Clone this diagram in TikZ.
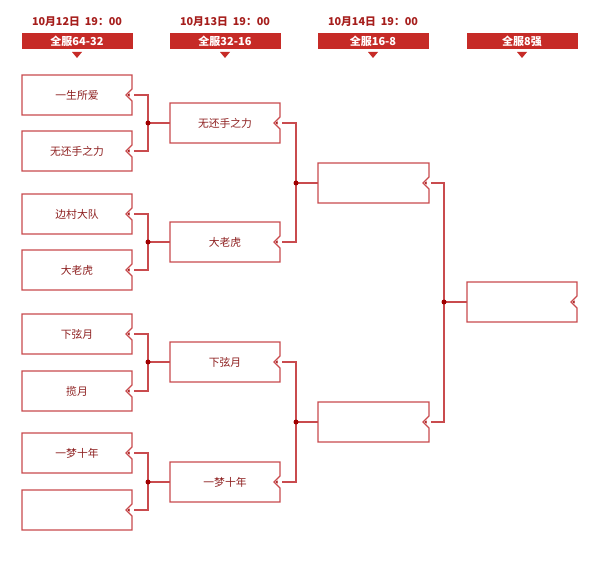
\documentclass[tikz,border=0pt]{standalone}
\usepackage{fontspec}
\newfontfamily\cjk{Noto Sans CJK SC}
\usetikzlibrary{calc,positioning}
\definecolor{boxColor}{HTML}{C94B4E}
\definecolor{txtColor}{HTML}{8E2020}
\definecolor{dateColor}{HTML}{A61E1C}
\definecolor{banColor}{HTML}{C62B27}
\definecolor{dotColor}{HTML}{A00000}
\tikzset{
	team/.style={minimum width=110pt, minimum height=40pt, inner sep=0, outer sep=0,
		text=txtColor, font=\cjk\fontsize{10.8}{12}\selectfont},
	frame/.style={draw=boxColor, line width=1.2pt},
	link/.style={draw=boxColor, line width=1.2pt},
	date/.style={text=dateColor, font=\cjk\bfseries\fontsize{10.8}{12}\selectfont},
	banner/.style={fill=banColor, minimum width=111pt, minimum height=16pt, inner sep=0,
		text=white, font=\cjk\bfseries\fontsize{11}{12}\selectfont}
}
\newcommand{\teamframe}[1]{%
	\draw[frame] (#1.north west) -- (#1.north east) -- ([yshift=6pt]#1.east)
		-- ([xshift=-6pt]#1.east) -- ([yshift=-6pt]#1.east) -- (#1.south east)
		-- (#1.south west) -- cycle;
	\fill[dotColor] ([xshift=-4.5pt]#1.east) -- ++(2pt,1.5pt) -- ++(0,-3pt) -- cycle;}
\begin{document}
\begin{tikzpicture}[x=1pt, y=-1pt]
	\useasboundingbox[fill=white] (0,0) rectangle (600,561);
	% headers
	\node[date] (d1) at (77, 22) {10月12日\ \ 19：00};
	\node[date] (d2) at (225, 22) {10月13日\ \ 19：00};
	\node[date] (d3) at (373, 22) {10月14日\ \ 19：00};
	\node[banner] (b1) at (77, 41) {全服64-32};
	\node[banner] (b2) at (225, 41) {全服32-16};
	\node[banner] (b3) at (373, 41) {全服16-8};
	\node[banner] (b4) at (522, 41) {全服8强};
	\foreach \x in {77,225,373,522}
		\fill[banColor] (\x-5, 52) -- (\x+5, 52) -- (\x, 58) -- cycle;
	% round 1
	\node[team] (r1a) at (77, 95) {一生所爱};
	\node[team] (r1b) at (77, 151) {无还手之力};
	\node[team] (r1c) at (77, 214) {边村大队};
	\node[team] (r1d) at (77, 270) {大老虎};
	\node[team] (r1e) at (77, 334) {下弦月};
	\node[team] (r1f) at (77, 391) {揽月};
	\node[team] (r1g) at (77, 453) {一梦十年};
	\node[team] (r1h) at (77, 510) {};
	% round 2
	\node[team] (r2a) at (225, 123) {无还手之力};
	\node[team] (r2b) at (225, 242) {大老虎};
	\node[team] (r2c) at (225, 362) {下弦月};
	\node[team] (r2d) at (225, 482) {一梦十年};
	% round 3
	\node[team, minimum width=111pt] (r3a) at (373.5, 183) {};
	\node[team, minimum width=111pt] (r3b) at (373.5, 422) {};
	% round 4
	\node[team] (r4a) at (522, 302) {};
	\foreach \n in {r1a,r1b,r1c,r1d,r1e,r1f,r1g,r1h,r2a,r2b,r2c,r2d,r3a,r3b,r4a}
		\teamframe{\n}
	% junctions
	\coordinate (j1a) at (148, 123);
	\coordinate (j1b) at (148, 242);
	\coordinate (j1c) at (148, 362);
	\coordinate (j1d) at (148, 482);
	\coordinate (j2a) at (296, 183);
	\coordinate (j2b) at (296, 422);
	\coordinate (j3a) at (444, 302);
	\draw[link] ([xshift=2pt]r1a.east) -| (j1a) |- ([xshift=2pt]r1b.east);
	\draw[link] ([xshift=2pt]r1c.east) -| (j1b) |- ([xshift=2pt]r1d.east);
	\draw[link] ([xshift=2pt]r1e.east) -| (j1c) |- ([xshift=2pt]r1f.east);
	\draw[link] ([xshift=2pt]r1g.east) -| (j1d) |- ([xshift=2pt]r1h.east);
	\draw[link] ([xshift=2pt]r2a.east) -| (j2a) |- ([xshift=2pt]r2b.east);
	\draw[link] ([xshift=2pt]r2c.east) -| (j2b) |- ([xshift=2pt]r2d.east);
	\draw[link] ([xshift=2pt]r3a.east) -| (j3a) |- ([xshift=2pt]r3b.east);
	\draw[link] (j1a) -- (r2a.west);
	\draw[link] (j1b) -- (r2b.west);
	\draw[link] (j1c) -- (r2c.west);
	\draw[link] (j1d) -- (r2d.west);
	\draw[link] (j2a) -- (r3a.west);
	\draw[link] (j2b) -- (r3b.west);
	\draw[link] (j3a) -- (r4a.west);
	\foreach \j in {j1a,j1b,j1c,j1d,j2a,j2b,j3a}
		\fill[dotColor] (\j) circle (2.5pt);
\end{tikzpicture}
\end{document}
